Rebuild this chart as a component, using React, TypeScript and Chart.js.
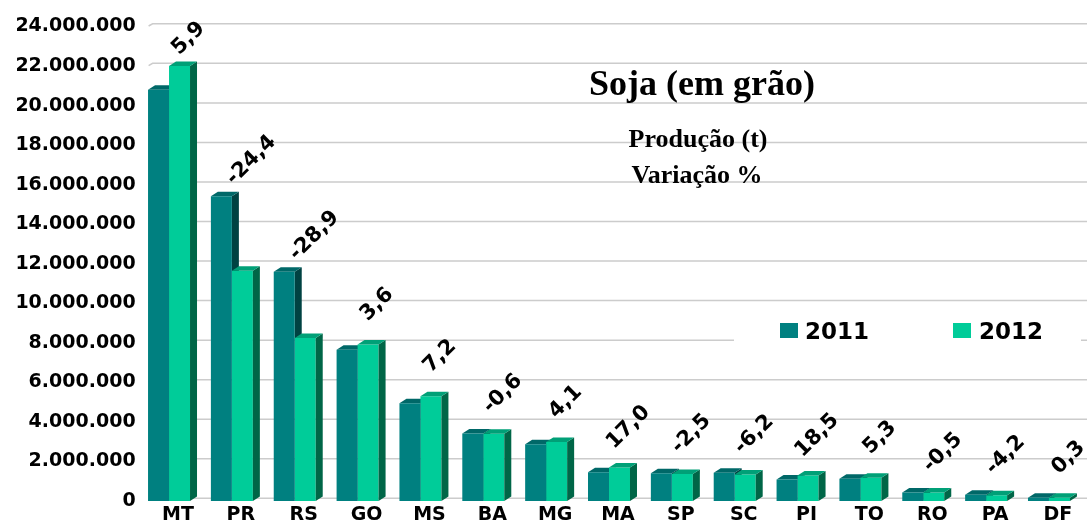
import React, { useEffect, useRef } from 'react';
import { Chart, registerables } from 'chart.js';

Chart.register(...registerables);

const categories = ['MT', 'PR', 'RS', 'GO', 'MS', 'BA', 'MG', 'MA', 'SP', 'SC', 'PI', 'TO', 'RO', 'PA', 'DF'];
const prod2011 = [20800000, 15420000, 11600000, 7650000, 4950000, 3420000, 2870000, 1450000, 1400000, 1430000, 1090000, 1120000, 430000, 310000, 170000];
const prod2012 = [22000000, 11650000, 8250000, 7920000, 5300000, 3400000, 2990000, 1700000, 1370000, 1340000, 1290000, 1180000, 428000, 297000, 170000];
const variation = [5.9, -24.4, -28.9, 3.6, 7.2, -0.6, 4.1, 17.0, -2.5, -6.2, 18.5, 5.3, -0.5, -4.2, 0.3];
const seriesLabels = ['2011', '2012'];
const yMin = 0;
const yMax = 24000000;
const yStep = 2000000;

const titleText = 'Soja (em grão)';
const subtitleLines = ['Produção (t)', 'Variação %'];

const frontColors = ['#008080', '#00CC99'];
const topColors = ['#006868', '#00A077'];
const sideColors = ['#004242', '#006647'];

const SANS = '"DejaVu Sans", sans-serif';
const SERIF = '"Liberation Serif", "Times New Roman", serif';

const fmtThousands = (v: number) => String(Math.round(v)).replace(/\B(?=(\d{3})+(?!\d))/g, '.');
const fmtPct = (v: number) => v.toFixed(1).replace('.', ',');

const DX = 7;
const DY = 4.5;

const drawFaces = (ctx: CanvasRenderingContext2D, meta: any, idx: number) => {
  ctx.save();
  meta.data.forEach((bar: any) => {
    const { x, y, base, width } = bar.getProps(['x', 'y', 'base', 'width'], true);
    const x0 = x - width / 2;
    const x1 = x + width / 2;
    ctx.fillStyle = sideColors[idx];
    ctx.beginPath();
    ctx.moveTo(x1, y);
    ctx.lineTo(x1 + DX, y - DY);
    ctx.lineTo(x1 + DX, base - DY);
    ctx.lineTo(x1, base);
    ctx.closePath();
    ctx.fill();
    ctx.fillStyle = topColors[idx];
    ctx.beginPath();
    ctx.moveTo(x0, y);
    ctx.lineTo(x0 + DX, y - DY);
    ctx.lineTo(x1 + DX, y - DY);
    ctx.lineTo(x1, y);
    ctx.closePath();
    ctx.fill();
  });
  ctx.restore();
};

const gridPlugin = {
  id: 'backWallGrid',
  beforeDatasetsDraw(chart: any) {
    const { ctx, chartArea } = chart;
    const yScale = chart.scales.y;
    ctx.save();
    ctx.strokeStyle = '#CCCCCC';
    ctx.lineWidth = 1.5;
    yScale.ticks.forEach((t: any) => {
      const py = yScale.getPixelForValue(t.value);
      ctx.beginPath();
      ctx.moveTo(chartArea.left + 11, py - 0.5);
      ctx.lineTo(chartArea.left + 15, py - 2.7);
      ctx.lineTo(chart.width, py - 2.7);
      ctx.stroke();
    });
    ctx.restore();
  },
};

// 2011 faces go behind everything (its side is hidden by the 2012 front),
// 2012 faces are drawn right after the 2012 bars.
const depthPlugin = {
  id: 'depth3d',
  beforeDatasetsDraw(chart: any) {
    drawFaces(chart.ctx, chart.getDatasetMeta(0), 0);
  },
  afterDatasetDraw(chart: any, args: any) {
    if (args.index === 1) drawFaces(chart.ctx, args.meta, 1);
  },
};

const variationLabelPlugin = {
  id: 'variationLabels',
  afterDatasetsDraw(chart: any) {
    const { ctx, chartArea } = chart;
    const m0 = chart.getDatasetMeta(0);
    const m1 = chart.getDatasetMeta(1);
    ctx.save();
    ctx.font = `bold 21px ${SANS}`;
    ctx.fillStyle = '#000';
    ctx.textAlign = 'center';
    ctx.textBaseline = 'middle';
    variation.forEach((v, i) => {
      const b0 = m0.data[i];
      const b1 = m1.data[i];
      const cx = b1.x + 9;
      let cy = Math.min(b1.y - 40, b0.y - 36);
      cy = Math.max(cy, chartArea.top + 12);
      ctx.save();
      ctx.translate(cx, cy);
      ctx.rotate(-Math.PI / 4);
      ctx.fillText(fmtPct(v), 0, 0);
      ctx.restore();
    });
    ctx.restore();
  },
};

const overlayPlugin = {
  id: 'overlay',
  afterDraw(chart: any) {
    const { ctx } = chart;
    ctx.save();
    ctx.fillStyle = '#000';
    ctx.textAlign = 'center';
    ctx.textBaseline = 'alphabetic';
    ctx.font = `bold 36px ${SERIF}`;
    ctx.fillText(titleText, 702, 95);
    ctx.font = `bold 26px ${SERIF}`;
    ctx.fillText(subtitleLines[0], 698, 147);
    ctx.fillText(subtitleLines[1], 697, 183);
    ctx.fillStyle = '#FFFFFF';
    ctx.fillRect(734, 304, 347, 39);
    ctx.font = `bold 23px ${SANS}`;
    ctx.textAlign = 'left';
    const items = [
      { box: 780, text: 805 },
      { box: 953, text: 979 },
    ];
    items.forEach((it, i) => {
      ctx.fillStyle = frontColors[i];
      ctx.fillRect(it.box, 323, 18, 15);
      ctx.fillStyle = '#000';
      ctx.fillText(chart.data.datasets[i].label, it.text, 338.5);
    });
    ctx.restore();
  },
};

export default function App() {
  const canvasRef = useRef<HTMLCanvasElement | null>(null);

  useEffect(() => {
    document.body.style.margin = '0';
    const canvas = canvasRef.current;
    if (!canvas) return;
    const chart = new Chart(canvas, {
      type: 'bar',
      data: {
        labels: categories,
        datasets: [
          { label: seriesLabels[0], data: prod2011, backgroundColor: frontColors[0], borderWidth: 0 },
          { label: seriesLabels[1], data: prod2012, backgroundColor: frontColors[1], borderWidth: 0 },
        ],
      },
      options: {
        animation: false,
        responsive: false,
        devicePixelRatio: 1,
        layout: { padding: { top: 26.5, right: 6.6, bottom: 0, left: 0 } },
        datasets: { bar: { categoryPercentage: 0.668, barPercentage: 1 } },
        plugins: {
          legend: { display: false },
          title: { display: false },
          tooltip: { enabled: false },
        },
        scales: {
          x: {
            grid: { display: false, drawTicks: false },
            border: { display: false },
            ticks: {
              color: '#000',
              font: { family: SANS, size: 19, weight: 'bold' },
              padding: 2.2,
              labelOffset: 9,
              maxRotation: 0,
              autoSkip: false,
            },
            afterFit: (scale: any) => {
              scale.height = 25;
            },
          },
          y: {
            min: yMin,
            max: yMax,
            grid: { display: false, drawTicks: false },
            border: { display: false },
            ticks: {
              stepSize: yStep,
              color: '#000',
              font: { family: SANS, size: 19, weight: 'bold' },
              padding: 2,
              callback: (v: any) => fmtThousands(Number(v)),
            },
            afterFit: (scale: any) => {
              scale.width = 137.6;
            },
          },
        },
      } as any,
      plugins: [gridPlugin, depthPlugin, variationLabelPlugin, overlayPlugin],
    });
    return () => chart.destroy();
  }, []);

  return (
    <div style={{ width: 1087, height: 526 }}>
      <canvas ref={canvasRef} width={1087} height={526} style={{ display: 'block' }} />
    </div>
  );
}
